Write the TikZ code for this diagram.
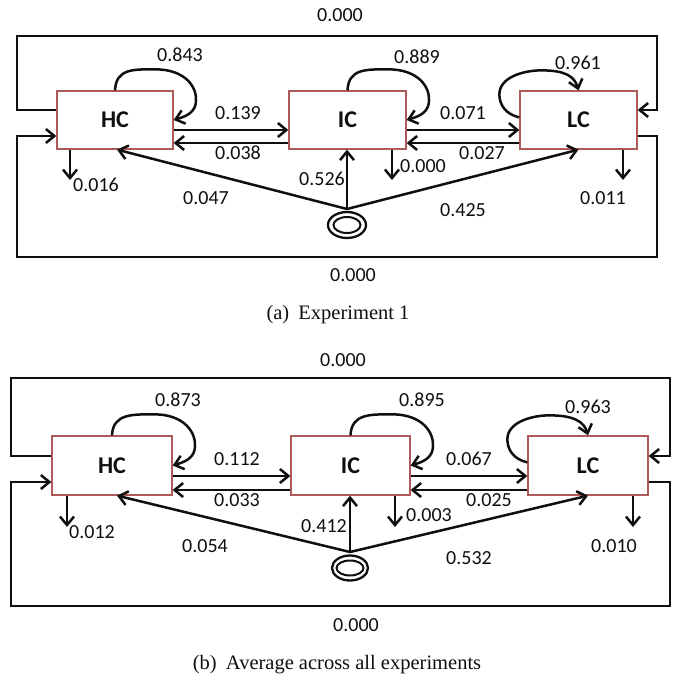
\documentclass[tikz,border=0pt]{standalone}
\usepackage{fontspec}
\setmainfont{Liberation Serif}
\newfontfamily\labfont{Carlito}
\usetikzlibrary{arrows.meta,calc,shapes.geometric}
\definecolor{boxred}{RGB}{175,90,90}
\definecolor{ink}{RGB}{15,15,15}
\tikzset{
  statebox/.style={draw=boxred, line width=1.3pt, fill=white, inner sep=0pt,
    font=\labfont\bfseries\fontsize{24}{28}\selectfont, text=ink},
  lbl/.style={inner sep=0pt, font=\labfont\fontsize{20}{24}\selectfont, text=ink},
  arr/.style={draw=ink, line width=2.5pt, -{Straight Barb[length=8.5pt,width=14pt]}},
  srcouter/.style={ellipse, draw=ink, line width=2.3pt, inner sep=0pt},
  captxt/.style={inner sep=0pt, font=\fontsize{20.5}{24}\selectfont, text=ink},
}
\newcommand\myloopNE[1]{\draw[arr] (#1.north) .. controls +(1,-22) and +(-22,0) .. ($(#1.north east)+(-18,-21)$) .. controls +(28,0) and +(3,-18) .. ($(#1.east)+(22,-16)$) .. controls +(-2,10) and +(10,-3) .. (#1.east);}
\newcommand\myloopNW[1]{\draw[arr] ($(#1.north west)+(0,27)$) .. controls +(-14,-3) and +(0,10) .. ($(#1.north west)+(-20,4)$) .. controls +(0,-17) and +(-18,0) .. ($(#1.north west)+(22,-20)$) .. controls +(24,0) and +(-4,-14) .. (#1.north);}
\begin{document}
\begin{tikzpicture}[x=1pt,y=-1pt]
\path[use as bounding box] (0,0) rectangle (680,680);

% ---------------- (a) ----------------
\coordinate (a1) at (17,110); \coordinate (a2) at (17,36);
\coordinate (a3) at (657,36); \coordinate (a4) at (657,110);
\coordinate (a5) at (657,136); \coordinate (a6) at (657,257);
\coordinate (a7) at (17,257); \coordinate (a8) at (17,136);
\coordinate (Pa) at (347,209);
\coordinate (oHa) at (70,180); \coordinate (oIa) at (392,180); \coordinate (oLa) at (623,180);

\node[statebox, minimum width=116pt, minimum height=58pt] (HCa) at (115,120) {HC};
\node[statebox, minimum width=117pt, minimum height=58pt] (ICa) at (347.5,120) {IC};
\node[statebox, minimum width=117pt, minimum height=58pt] (LCa) at (578.5,120) {LC};

\draw[arr] (HCa.west |- a1) -- (a1) -- (a2) -- (a3) -- (a4) -- (LCa.east |- a4);
\draw[arr] (LCa.east |- a5) -- (a5) -- (a6) -- (a7) -- (a8) -- (HCa.west |- a8);

\node[srcouter, minimum width=38pt, minimum height=26pt] (Sa) at (347,225) {};
\node[srcouter, line width=2pt, minimum width=27pt, minimum height=16pt] (Sai) at (347,225) {};

\myloopNE{HCa}
\myloopNE{ICa}
\myloopNW{LCa}

\draw[arr] ([yshift=-10pt]HCa.east) -- ([yshift=-10pt]ICa.west);
\draw[arr] ([yshift=-23pt]ICa.west) -- ([yshift=-23pt]HCa.east);
\draw[arr] ([yshift=-10pt]ICa.east) -- ([yshift=-10pt]LCa.west);
\draw[arr] ([yshift=-23pt]LCa.west) -- ([yshift=-23pt]ICa.east);

\draw[arr] (HCa.south -| oHa) -- (oHa);
\draw[arr] (ICa.south -| oIa) -- (oIa);
\draw[arr] (LCa.south -| oLa) -- (oLa);

\draw[arr] (Pa) -- ([xshift=2pt]HCa.south);
\draw[arr] (Pa) -- (Pa |- ICa.south);
\draw[arr] (Pa) -- (LCa.south);

\node[lbl] (la1) at (340,15) {0.000};
\node[lbl] (la2) at (180,55) {0.843};
\node[lbl] (la3) at (417,57) {0.889};
\node[lbl] (la4) at (578,63) {0.961};
\node[lbl] (la5) at (238,113) {0.139};
\node[lbl] (la6) at (463,113) {0.071};
\node[lbl] (la7) at (238,153) {0.038};
\node[lbl] (la8) at (482,153) {0.027};
\node[lbl] (la9) at (96,185) {0.016};
\node[lbl] (la10) at (423,166) {0.000};
\node[lbl] (la11) at (322,179) {0.526};
\node[lbl] (la12) at (206,198) {0.047};
\node[lbl] (la13) at (603,198) {0.011};
\node[lbl] (la14) at (463,210) {0.425};
\node[lbl] (la15) at (353,275) {0.000};
\node[captxt] (capa) at (338,315) {(a)\hspace{0.45em}Experiment 1};

% ---------------- (b) ----------------
\coordinate (b1) at (11,456); \coordinate (b2) at (11,378);
\coordinate (b3) at (670,378); \coordinate (b4) at (670,456);
\coordinate (b5) at (670,482); \coordinate (b6) at (670,606);
\coordinate (b7) at (11,606); \coordinate (b8) at (11,482);
\coordinate (Pb) at (350,552);
\coordinate (oHb) at (67,527); \coordinate (oIb) at (395,527); \coordinate (oLb) at (633,527);

\node[statebox, minimum width=120pt, minimum height=59pt] (HCb) at (112,465.5) {HC};
\node[statebox, minimum width=119pt, minimum height=59pt] (ICb) at (350.5,465.5) {IC};
\node[statebox, minimum width=120pt, minimum height=59pt] (LCb) at (588,465.5) {LC};

\draw[arr] (HCb.west |- b1) -- (b1) -- (b2) -- (b3) -- (b4) -- (LCb.east |- b4);
\draw[arr] (LCb.east |- b5) -- (b5) -- (b6) -- (b7) -- (b8) -- (HCb.west |- b8);

\node[srcouter, minimum width=36pt, minimum height=25pt] (Sb) at (350,568) {};
\node[srcouter, line width=2pt, minimum width=27pt, minimum height=15pt] (Sbi) at (350,568) {};

\myloopNE{HCb}
\myloopNE{ICb}
\myloopNW{LCb}

\draw[arr] ([yshift=-10.5pt]HCb.east) -- ([yshift=-10.5pt]ICb.west);
\draw[arr] ([yshift=-24.5pt]ICb.west) -- ([yshift=-24.5pt]HCb.east);
\draw[arr] ([yshift=-10.5pt]ICb.east) -- ([yshift=-10.5pt]LCb.west);
\draw[arr] ([yshift=-24.5pt]LCb.west) -- ([yshift=-24.5pt]ICb.east);

\draw[arr] (HCb.south -| oHb) -- (oHb);
\draw[arr] (ICb.south -| oIb) -- (oIb);
\draw[arr] (LCb.south -| oLb) -- (oLb);

\draw[arr] (Pb) -- ([xshift=5pt]HCb.south);
\draw[arr] (Pb) -- (Pb |- ICb.south);
\draw[arr] (Pb) -- (LCb.south);

\node[lbl] (lb1) at (343,360) {0.000};
\node[lbl] (lb2) at (178,400) {0.873};
\node[lbl] (lb3) at (422,400) {0.895};
\node[lbl] (lb4) at (588,407) {0.963};
\node[lbl] (lb5) at (237,459) {0.112};
\node[lbl] (lb6) at (469,459) {0.067};
\node[lbl] (lb7) at (237,500) {0.033};
\node[lbl] (lb8) at (489,500) {0.025};
\node[lbl] (lb9) at (92,532) {0.012};
\node[lbl] (lb10) at (429,515) {0.003};
\node[lbl] (lb11) at (324,526) {0.412};
\node[lbl] (lb12) at (205,546) {0.054};
\node[lbl] (lb13) at (614,546) {0.010};
\node[lbl] (lb14) at (469,558) {0.532};
\node[lbl] (lb15) at (356,625) {0.000};
\node[captxt] (capb) at (337,665) {(b)\hspace{0.45em}Average across all experiments};
\end{tikzpicture}
\end{document}
